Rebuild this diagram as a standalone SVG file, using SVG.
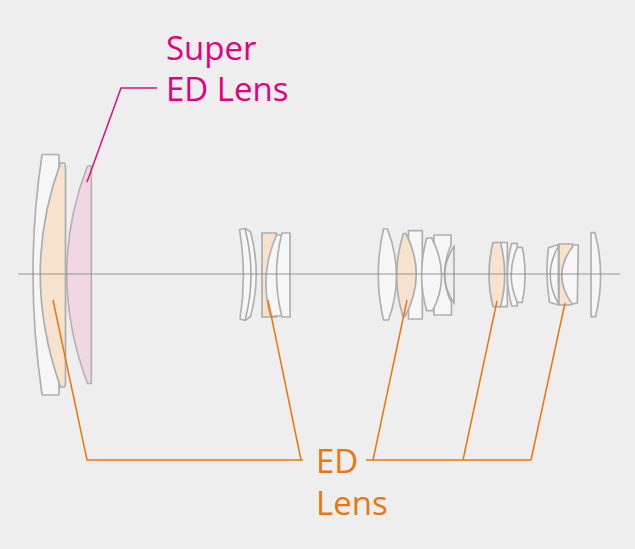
<svg xmlns="http://www.w3.org/2000/svg" width="635" height="549" viewBox="0 0 635 549">
<style>
.l{fill:#f6f6f6;stroke:#b0b0b0;stroke-width:1.7;stroke-linejoin:round}
.d{fill:none;stroke:#a6a6a6;stroke-width:1.5}
.o{fill:#f6e2cd;stroke:#adadad;stroke-width:1.7;stroke-linejoin:round}
.p{fill:#f1d7e4;stroke:#b3b3b3;stroke-width:1.7;stroke-linejoin:round}
.c{fill:none;stroke-width:1.5;stroke-linejoin:miter}
.t{font-family:"Open Sans","Noto Sans",sans-serif;font-size:33px}
</style>
<rect width="635" height="549" fill="#eeeeee"/>
<g id="lens-group-1">
<path class="l" d="M42 155Q42 154.500 43 154.500H58Q59 154.500 59 156V394Q59 395 58 395H43Q42 395 42 394Q24 273 42 155Z"/>
<path class="o" d="M60.500 163H64Q65.500 163 65.500 168V382Q65.500 387 64 387H60.500Q20 273 60.500 163Z"/>
<path class="p" d="M87.500 166H91.300V383.500H87.500Q46 273 87.500 166Z"/>
</g>
<g id="lens-group-2">
<path class="l" d="M239.500 229.500L245 228.500L250.500 231.500Q262 275 250.500 316.500L245 320.500L240 319Q247 275 239.500 229.500Z"/>
<path class="d" d="M245 228.500Q257 275 245 320.500"/>
<path class="o" d="M262 233H276.500V317H262Z"/>
<path class="l" d="M276.500 235H282V316H270.500Q259 275 276.500 235Z"/>
<path class="l" d="M282 233H290V317H282Q271 275 282 233Z"/>
</g>
<g id="lens-group-3">
<path class="l" d="M383.500 229H387.500Q405 275 388.500 320H383.500Q373 275 383.500 229Z"/>
<path class="l" d="M408.500 230.700H422.300V319H408.500Z"/>
<path class="o" d="M403.500 233.500H406Q427 275 405 316.500H403Q390 275 403.500 233.500Z"/>
<path class="l" d="M434 235H451V245Q438 275 451.500 303V315H434Z"/>
<path class="l" d="M426.700 238H431.700Q451 275 432.700 310.700H426.700Q416.500 275 426.700 238Z"/>
<path class="d" d="M454 246.700V303Q435 275 454 246.700Z"/>
</g>
<g id="lens-group-4">
<path class="l" d="M500 242.500H507.300V306.700H500Z"/>
<path class="o" d="M493 242.500H500.500Q509 275 500.500 306.700H493Q485 275 493 242.500Z"/>
<path class="l" d="M511.700 243.300H517.300V306H511.700Q503 275 511.700 243.300Z"/>
<path class="l" d="M517.300 247.300H522.300Q528 275 522.300 302.300H517.300Q505 275 517.300 247.300Z"/>
</g>
<g id="lens-group-5">
<path class="l" d="M548.500 247.700L558.500 244.500V305L549.500 302.300Q545 275 548.500 247.700Z"/>
<path class="d" d="M558.500 246Q542 275 558.500 304"/>
<path class="l" d="M572.500 245H578.300L577.300 303L566 305Q548 275 572.500 245Z"/>
<path class="o" d="M559 244H572.500V247Q551 275 572.500 304.500L566 305H559Z"/>
<path class="l" d="M591 232.700H595Q606 275 595.500 316.700H591Z"/>
</g>
<g id="connectors">
<path d="M18 274H620" fill="none" stroke="#8a8a8a" stroke-width="0.9"/>
<path class="c" stroke="#d9127f" d="M157 88H121L87 182"/>
<path class="c" stroke="#e8770f" d="M53 300L87 460H303M268 300L301 460M366 460H531M407 300L373 460M497 301L463 460M565 303L531 460"/>
</g>
<text class="t" x="166" y="60" fill="#e3007f">Super</text>
<text class="t" x="166" y="101" fill="#e3007f">ED Lens</text>
<text class="t" x="316" y="473" fill="#e8770f">ED</text>
<text class="t" x="316" y="515" fill="#e8770f">Lens</text>
</svg>
